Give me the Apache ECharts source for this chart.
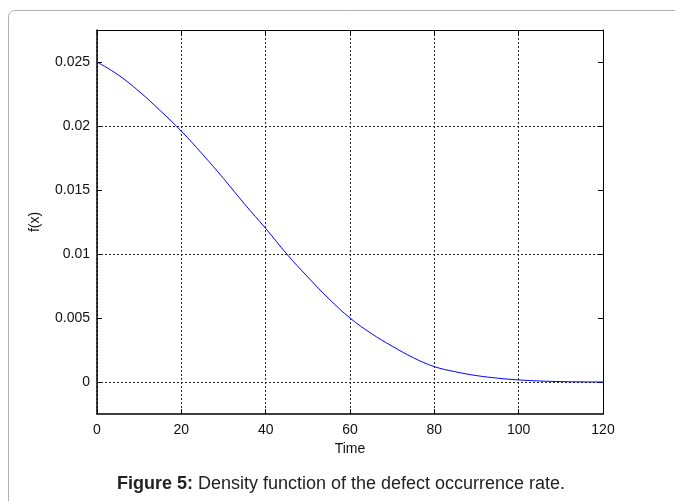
<!DOCTYPE html>
<html><head><meta charset="utf-8">
<script src="https://cdn.jsdelivr.net/npm/echarts@6/dist/echarts.min.js"></script>
<style>html,body{margin:0;padding:0;background:#fff}#c{width:675px;height:501px}</style>
</head><body><div id="c"></div>
<script>
var timeValues = [0,5,10,15,20,25,30,35,40,45,50,55,60,65,70,75,80,85,90,95,100,105,110,115,120];
var densityValues = [0.0250,0.0240,0.0227,0.0212,0.0196,0.0178,0.0159,0.0139,0.0120,0.0100,0.0082,0.0065,0.0050,0.0038,0.0028,0.0019,0.0012,0.0008,0.0005,0.0003,0.00016,0.00008,0.00003,0.00001,0.0];
var xTicks = [0,20,40,60,80,100,120];
var yTicks = [0,0.005,0.01,0.015,0.02,0.025];
var yLabels = ['0','0.005','0.01','0.015','0.02','0.025'];
var xTitle = 'Time';
var yTitle = 'f(x)';
var captionBold = 'Figure 5:';
var captionText = ' Density function of the defect occurrence rate.';

var FONT = '"Liberation Sans", Arial, sans-serif';
var chart = echarts.init(document.getElementById('c'), null, {renderer:'canvas'});
var data = timeValues.map(function(t,i){return [t, densityValues[i]];});
var grid = {left:97, top:30, right:72, bottom:87, containLabel:false};
var gridDash = {color:'#222', width:1, type:[2,2]};

var option = {
  animation:false,
  backgroundColor:'#fff',
  graphic:[{type:'rect', shape:{x:8.5,y:10.5,width:720,height:520,r:6}, style:{fill:'none', stroke:'#b0b0b0', lineWidth:1}, z:-10}],
  title:{
    text:'{b|'+captionBold+'}'+captionText,
    left:336, top:470, textAlign:'center',
    textStyle:{fontFamily:FONT, fontSize:18, fontWeight:'normal', color:'#222',
      rich:{b:{fontFamily:FONT, fontSize:18, fontWeight:'bold', color:'#222'}}}
  },
  grid:grid,
  xAxis:[{
    type:'value', min:0, max:120, interval:20, position:'bottom',
    name:xTitle, nameLocation:'middle', nameGap:26,
    nameTextStyle:{fontFamily:FONT, fontSize:14, color:'#111'},
    axisLine:{onZero:false, lineStyle:{color:'#000', width:1.5}},
    axisTick:{inside:true, length:5, lineStyle:{color:'#000'}},
    axisLabel:{fontFamily:FONT, fontSize:14, color:'#111', margin:9},
    splitLine:{show:true, lineStyle:gridDash}
  },{
    type:'value', min:0, max:120, interval:20, position:'top',
    axisLine:{onZero:false, lineStyle:{color:'#000', width:1}},
    axisTick:{inside:true, length:5, lineStyle:{color:'#000'}},
    axisLabel:{show:false}, splitLine:{show:false}
  }],
  yAxis:[{
    type:'value', min:-0.0025, max:0.0275, position:'left',
    name:yTitle, nameLocation:'middle', nameGap:55, nameRotate:90,
    nameTextStyle:{fontFamily:FONT, fontSize:14, color:'#111'},
    axisLine:{onZero:false, lineStyle:{color:'#000', width:1.5}},
    axisTick:{inside:true, length:5, lineStyle:{color:'#000'}, customValues:yTicks},
    axisLabel:{fontFamily:FONT, fontSize:14, color:'#111', margin:7, customValues:yTicks,
      formatter:function(v){var i=yTicks.findIndex(function(t){return Math.abs(t-v)<1e-9;}); return i>=0?yLabels[i]:'';}},
    splitLine:{show:false}
  },{
    type:'value', min:-0.0025, max:0.0275, position:'right',
    axisLine:{onZero:false, lineStyle:{color:'#000', width:1}},
    axisTick:{inside:true, length:5, lineStyle:{color:'#000'}, customValues:yTicks},
    axisLabel:{show:false}, splitLine:{show:false}
  }],
  series:[{
    type:'line', data:data, xAxisIndex:0, yAxisIndex:0, showSymbol:false, smooth:0.4,
    lineStyle:{color:'#0000ff', width:1}, z:3,
    markLine:{silent:true, symbol:['none','none'], label:{show:false}, lineStyle:gridDash, z:1,
      data:yTicks.map(function(v){return {yAxis:v};})}
  }]
};
chart.setOption(option);
</script></body></html>
